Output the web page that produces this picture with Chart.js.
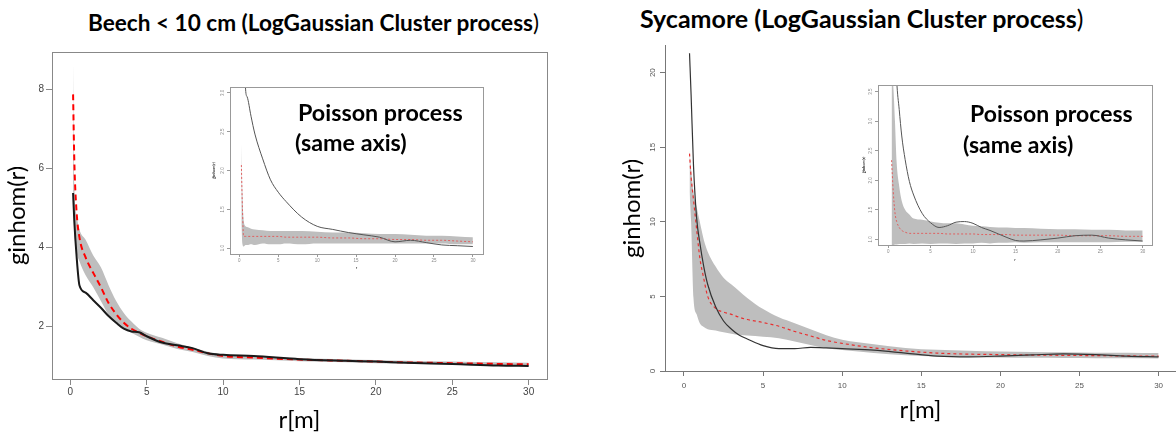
<!DOCTYPE html>
<html>
<head>
<meta charset="utf-8">
<script src="https://cdn.jsdelivr.net/npm/chart.js@4.4.1/dist/chart.umd.min.js"></script>
<style>
body{margin:0;background:#fff;width:1176px;height:432px;overflow:hidden;position:relative;font-family:Lato,"Open Sans",sans-serif}
canvas{position:absolute}
.t{position:absolute;white-space:nowrap;font-weight:bold;color:#000;line-height:1}
.t span{font-weight:normal}
</style>
</head>
<body>

<div class="t" style="left:88px;top:12px;font-size:22.6px">Beech &lt; 10 cm (LogGaussian Cluster process<span>)</span></div>
<div class="t" style="left:640px;top:6px;font-size:25px">Sycamore (LogGaussian Cluster process<span>)</span></div>

<canvas id="beech" width="552" height="388" style="left:0;top:44px"></canvas>
<canvas id="syc" width="561" height="394" style="left:615px;top:38px"></canvas>
<canvas id="beechPois" width="283" height="190" style="left:205px;top:82px"></canvas>
<canvas id="sycPois" width="302" height="185" style="left:855px;top:80px"></canvas>

<div class="t" style="left:298px;top:101px;font-size:23.3px">Poisson process</div>
<div class="t" style="left:295px;top:131px;font-size:23.3px">(same axis)</div>
<div class="t" style="left:970px;top:102px;font-size:23px">Poisson process</div>
<div class="t" style="left:963px;top:133px;font-size:23px">(same axis)</div>

<script>

// Beech < 10 cm, LGCP fit
const beechR=[0.18,0.26,0.4,0.6,1,1.5,2,2.5,3,3.5,4,4.5,5,6,7,8,9,10,12,15,18,20,22,25,28,30]
const beechObs=[5.38,4.67,3.83,3.04,2.86,2.67,2.48,2.27,2.1,1.95,1.88,1.86,1.76,1.6,1.53,1.46,1.33,1.29,1.26,1.18,1.14,1.12,1.09,1.06,1.02,1.01]
const beechTheo=[7.87,6.2,4.95,4.25,3.75,3.36,3.0,2.6,2.32,2.1,1.95,1.85,1.76,1.62,1.5,1.42,1.33,1.26,1.22,1.17,1.14,1.12,1.1,1.08,1.06,1.05]
const beechHi=[8.67,5.6,4.85,4.45,4.2,3.8,3.5,3.05,2.65,2.35,2.13,1.95,1.85,1.72,1.58,1.47,1.37,1.3,1.26,1.21,1.18,1.16,1.14,1.12,1.1,1.09]
const beechLo=[5.2,4.4,3.9,3.65,3.3,3.0,2.65,2.3,2.1,1.97,1.85,1.75,1.66,1.55,1.44,1.36,1.26,1.2,1.17,1.13,1.1,1.08,1.07,1.05,1.03,1.02]

// Sycamore, LGCP fit
const sycR=[0.35,0.45,0.6,0.8,1,1.25,1.5,2,2.5,3,3.5,4,5,6,7,8,9,10,12,14,16,18,20,22,24,26,28,30]
const sycObs=[21.3,18.5,13.8,10.25,8.6,7.0,5.8,4.3,3.35,2.8,2.4,2.15,1.7,1.5,1.5,1.58,1.55,1.5,1.4,1.2,1.0,0.95,1.0,1.08,1.15,1.1,1.0,0.95]
const sycTheo=[14.57,13.0,11.5,9.5,7.6,6.2,5.0,4.2,3.95,3.8,3.6,3.45,3.25,3.0,2.65,2.35,2.05,1.85,1.55,1.35,1.2,1.13,1.1,1.07,1.05,1.03,1.01,1.0]
const sycHi=[14.8,13.5,12.0,11.0,10.0,8.8,8.0,7.0,6.25,5.8,5.35,4.9,4.15,3.6,3.2,2.8,2.4,2.1,1.8,1.55,1.42,1.35,1.3,1.27,1.25,1.23,1.22,1.2]
const sycLo=[12.0,10.0,4.9,3.8,3.2,2.95,2.8,2.72,2.6,2.5,2.42,2.38,2.3,2.2,1.97,1.75,1.52,1.4,1.2,1.05,0.97,0.92,0.9,0.88,0.87,0.86,0.85,0.84]

// insets: Poisson process fits
const beechPoisR=[0.26,0.4,0.55,0.8,1,1.5,2,3,4,5,6,8,10,12,14,16,18,20,22,24,26,28,30]
const beechPoisObs=[8,6,4.5,3.05,2.95,2.7,2.47,2.15,1.88,1.72,1.6,1.4,1.28,1.24,1.2,1.17,1.14,1.08,1.1,1.07,1.04,1.03,1.02]
const beechPoisTheo=[2.07,1.5,1.15,1.15,1.15,1.15,1.15,1.15,1.15,1.15,1.14,1.14,1.14,1.13,1.13,1.12,1.12,1.11,1.11,1.1,1.1,1.09,1.08]
const beechPoisHi=[2.35,1.7,1.36,1.28,1.27,1.25,1.24,1.23,1.22,1.22,1.22,1.22,1.21,1.2,1.2,1.19,1.18,1.18,1.17,1.16,1.16,1.15,1.14]
const beechPoisLo=[1.3,1.05,1.02,1.04,1.04,1.05,1.04,1.06,1.05,1.05,1.06,1.05,1.06,1.06,1.06,1.06,1.06,1.06,1.06,1.06,1.06,1.05,1.05]

const sycPoisR=[0.4,0.6,0.8,1,1.3,1.6,2,2.5,3,4,5,6,7,8,9,10,11,12,13,14,15,16,18,20,22,24,26,28,30]
const sycPoisObs=[8,6,4.5,3.7,3.2,2.75,2.35,1.98,1.75,1.44,1.28,1.2,1.23,1.29,1.3,1.27,1.2,1.15,1.09,1.03,0.98,0.97,0.99,1.02,1.06,1.07,1.02,0.99,0.97]
const sycPoisTheo=[2.34,1.8,1.45,1.3,1.2,1.15,1.12,1.1,1.1,1.1,1.1,1.1,1.09,1.09,1.09,1.09,1.08,1.08,1.08,1.08,1.07,1.07,1.07,1.07,1.06,1.06,1.06,1.05,1.05]
const sycPoisHi=[3.8,3.6,3.0,2.3,1.9,1.65,1.5,1.42,1.35,1.33,1.3,1.28,1.27,1.27,1.25,1.23,1.22,1.21,1.2,1.2,1.19,1.19,1.18,1.17,1.17,1.16,1.16,1.15,1.15]
const sycPoisLo=[0.9,0.9,0.91,0.91,0.92,0.92,0.92,0.93,0.92,0.93,0.92,0.93,0.93,0.92,0.93,0.93,0.94,0.93,0.94,0.94,0.95,0.94,0.95,0.95,0.95,0.95,0.95,0.96,0.96]

// tick labels
const rTicks=[0,5,10,15,20,25,30]
const beechYTicks=[2,4,6,8]
const sycYTicks=[0,5,10,15,20]
const beechPoisYTicks=[1.0,1.5,2.0,2.5,3.0]
const sycPoisYTicks=[1.0,1.5,2.0,2.5,3.0,3.5]


function pts(r,y){
return r.map((v,i)=>({x:v,y:y[i]}))
}

const boxPlugin={
id:"box",
afterDraw(chart,args,opts){
if(!opts.on) return
const a=chart.chartArea
const ctx=chart.ctx
ctx.save()
ctx.strokeStyle=opts.color
ctx.lineWidth=1
ctx.strokeRect(Math.round(a.left)+0.5,Math.round(a.top)+0.5,Math.round(a.right-a.left),Math.round(a.bottom-a.top))
ctx.restore()
}
}

function makeChart(id,o){

return new Chart(document.getElementById(id),{
type:"line",
data:{
datasets:[
{data:pts(o.r,o.obs),borderColor:o.obsColor,borderWidth:o.obsWidth,pointRadius:0,fill:false,cubicInterpolationMode:"monotone"},
{data:pts(o.r,o.theo),borderColor:o.theoColor,borderWidth:o.theoWidth,borderDash:o.dash,pointRadius:0,fill:false,cubicInterpolationMode:"monotone"},
{data:pts(o.r,o.hi),borderWidth:0,borderColor:"rgba(0,0,0,0)",backgroundColor:"#bebebe",pointRadius:0,fill:"+1",cubicInterpolationMode:"monotone"},
{data:pts(o.r,o.lo),borderWidth:0,borderColor:"rgba(0,0,0,0)",pointRadius:0,fill:false,cubicInterpolationMode:"monotone"}
]
},
options:{
responsive:false,
animation:false,
events:[],
layout:{padding:{top:5,right:o.padR,left:0,bottom:0}},
plugins:{
legend:{display:false},
tooltip:{enabled:false},
box:{on:o.box,color:o.axisColor}
},
scales:{
x:{
type:"linear",
min:-1.2,
max:o.xmax,
afterBuildTicks:s=>{s.ticks=rTicks.map(v=>({value:v}))},
afterFit:s=>{s.height=o.xh},
grid:{drawOnChartArea:false,tickLength:o.tl,color:o.axisColor},
border:{display:!o.box,color:o.axisColor},
ticks:{font:{size:o.fs,family:"Liberation Sans"},color:o.tickColor,padding:o.xpad,maxRotation:0},
title:{display:true,text:o.xTitle,font:{size:o.titleSize,family:"Lato",lineHeight:1},color:"#000",padding:{top:0,bottom:o.xTitlePad}}
},
y:{
type:"linear",
min:o.ymin,
max:o.ymax,
afterBuildTicks:s=>{s.ticks=o.yt.map(v=>({value:v}))},
afterFit:s=>{s.width=o.yw},
grid:{drawOnChartArea:false,tickLength:o.tl,color:o.axisColor},
border:{display:!o.box,color:o.axisColor},
ticks:{font:{size:o.fs,family:"Liberation Sans"},color:o.tickColor,padding:o.ypad,minRotation:o.yrot,maxRotation:o.yrot,crossAlign:o.yrot?"center":"near",callback:o.yfmt},
title:{display:true,text:o.yTitle,font:{size:o.titleSize,family:"Lato",lineHeight:1},color:"#000",padding:{top:o.yTitlePad,bottom:0}}
}
}
},
plugins:[boxPlugin]
})

}


makeChart("beech",{
r:beechR,obs:beechObs,theo:beechTheo,hi:beechHi,lo:beechLo,
obsColor:"#1a1a1a",obsWidth:2,theoColor:"#ff0000",theoWidth:2,dash:[6,4],
padR:5,box:true,axisColor:"#888",tickColor:"#444",
xmax:31.2,xh:53,tl:6,fs:10,xpad:1,
ymin:0.68,ymax:8.94,yt:beechYTicks,yw:52,ypad:2,yrot:0,yfmt:v=>v,
xTitle:"r[m]",yTitle:"ginhom(r)",titleSize:24,xTitlePad:0,yTitlePad:5
})

makeChart("syc",{
r:sycR,obs:sycObs,theo:sycTheo,hi:sycHi,lo:sycLo,
obsColor:"#333",obsWidth:1.2,theoColor:"#e83030",theoWidth:1.2,dash:[3,3],
padR:0,box:false,axisColor:"#777",tickColor:"#555",
xmax:31.1,xh:61,tl:5,fs:8,xpad:5,
ymin:0,ymax:21.8,yt:sycYTicks,yw:50,ypad:3,yrot:90,yfmt:v=>v,
xTitle:"r[m]",yTitle:"ginhom(r)",titleSize:24,xTitlePad:10,yTitlePad:5
})

makeChart("beechPois",{
r:beechPoisR,obs:beechPoisObs,theo:beechPoisTheo,hi:beechPoisHi,lo:beechPoisLo,
obsColor:"#555",obsWidth:1,theoColor:"#e06060",theoWidth:1,dash:[2,2],
padR:5,box:true,axisColor:"#999",tickColor:"#888",
xmax:31.3,xh:18,tl:3,fs:4.5,xpad:1,
ymin:0.923,ymax:3.077,yt:beechPoisYTicks,yw:25,ypad:1,yrot:90,yfmt:v=>v.toFixed(1),
xTitle:"r",yTitle:"ĝinhom(r)",titleSize:4,xTitlePad:2,yTitlePad:7
})

makeChart("sycPois",{
r:sycPoisR,obs:sycPoisObs,theo:sycPoisTheo,hi:sycPoisHi,lo:sycPoisLo,
obsColor:"#555",obsWidth:1,theoColor:"#e06060",theoWidth:1,dash:[2,2],
padR:5,box:true,axisColor:"#999",tickColor:"#888",
xmax:31.1,xh:20,tl:3,fs:4.5,xpad:1,
ymin:0.903,ymax:3.614,yt:sycPoisYTicks,yw:23,ypad:1,yrot:90,yfmt:v=>v.toFixed(1),
xTitle:"r",yTitle:"ĝinhom(r)",titleSize:4,xTitlePad:3,yTitlePad:7
})

</script>
</body>
</html>
